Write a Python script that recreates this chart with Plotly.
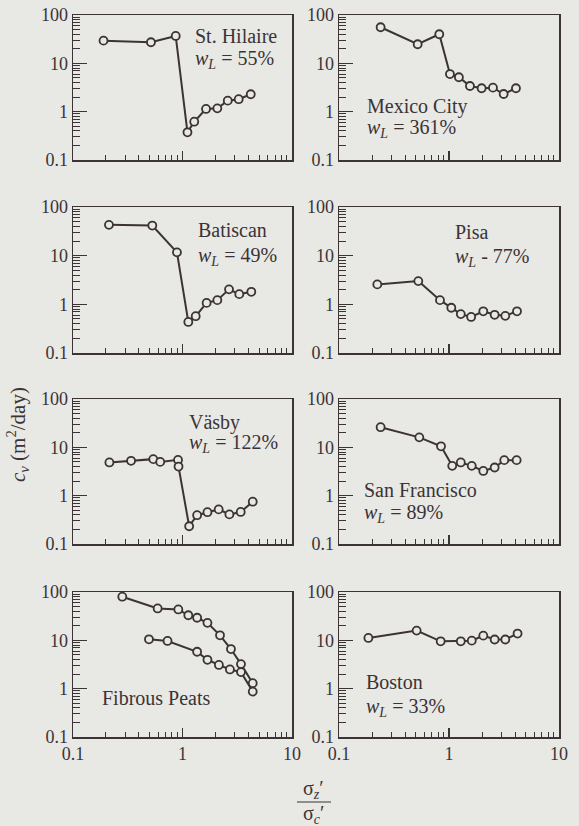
import plotly.graph_objects as go

# ---------------- data ----------------
st_hilaire_x = [0.19, 0.515, 0.867, 1.11, 1.28, 1.64, 2.08, 2.59, 3.26, 4.2]
st_hilaire_y = [29.5, 27.3, 36.9, 0.374, 0.62, 1.14, 1.17, 1.69, 1.81, 2.29]

mexico_x = [0.239, 0.519, 0.816, 1.02, 1.23, 1.55, 1.98, 2.51, 3.14, 4.06]
mexico_y = [55.8, 24.8, 40, 6.0, 5.15, 3.4, 3.05, 3.14, 2.32, 3.05]

batiscan_x = [0.213, 0.53, 0.89, 1.13, 1.32, 1.66, 2.08, 2.66, 3.3, 4.25]
batiscan_y = [43, 41.6, 11.7, 0.435, 0.57, 1.07, 1.22, 2.03, 1.62, 1.81]

pisa_x = [0.223, 0.526, 0.828, 1.05, 1.28, 1.59, 2.05, 2.6, 3.25, 4.15]
pisa_y = [2.57, 3.0, 1.22, 0.85, 0.63, 0.55, 0.72, 0.61, 0.58, 0.72]

vasby_x = [0.215, 0.339, 0.541, 0.626, 0.91, 0.92, 1.15, 1.36, 1.69, 2.14, 2.68, 3.4, 4.38]
vasby_y = [4.87, 5.26, 5.7, 5.0, 5.5, 4.0, 0.233, 0.394, 0.455, 0.52, 0.41, 0.46, 0.75]

sf_x = [0.239, 0.537, 0.846, 1.07, 1.28, 1.61, 2.05, 2.6, 3.18, 4.12]
sf_y = [26.1, 16.1, 10.5, 4.14, 4.87, 4.14, 3.25, 3.83, 5.43, 5.43]

peat1_x = [0.282, 0.593, 0.916, 1.13, 1.36, 1.69, 2.2, 2.77, 3.42, 4.38]
peat1_y = [80, 45.7, 43.6, 33, 29.3, 23, 12.7, 6.6, 3.22, 1.3]
peat2_x = [0.494, 0.73, 1.36, 1.69, 2.15, 2.71, 3.42, 4.38]
peat2_y = [10.5, 9.7, 5.8, 3.96, 3.1, 2.5, 2.2, 0.87]

boston_x = [0.185, 0.508, 0.84, 1.28, 1.61, 2.05, 2.6, 3.25, 4.2]
boston_y = [11.2, 15.9, 9.55, 9.55, 9.85, 12.5, 10.4, 10.4, 13.8]

site_names = ["St. Hilaire", "Mexico City", "Batiscan", "Pisa",
              "Väsby", "San Francisco", "Fibrous Peats", "Boston"]
wl_labels = ["<i>w</i><sub><i>L</i></sub> = 55%", "<i>w</i><sub><i>L</i></sub> = 361%",
             "<i>w</i><sub><i>L</i></sub> = 49%", "<i>w</i><sub><i>L</i></sub> - 77%",
             "<i>w</i><sub><i>L</i></sub> = 122%", "<i>w</i><sub><i>L</i></sub> = 89%",
             None, "<i>w</i><sub><i>L</i></sub> = 33%"]

x_tickvals = [0.1, 1, 10]
x_ticktext = ["0.1", "1", "10"]
y_tickvals = [0.1, 1, 10, 100]
y_ticktext = ["0.1", "1", "10", "100"]

series = [
    [(st_hilaire_x, st_hilaire_y)],
    [(mexico_x, mexico_y)],
    [(batiscan_x, batiscan_y)],
    [(pisa_x, pisa_y)],
    [(vasby_x, vasby_y)],
    [(sf_x, sf_y)],
    [(peat1_x, peat1_y), (peat2_x, peat2_y)],
    [(boston_x, boston_y)],
]

# ---------------- layout / style ----------------
W, H = 579, 826
BG = "#e8e8e4"
INK = "#3b3336"
FONT = "Liberation Serif"
TICK_SIZE = 18
LABEL_SIZE = 20

col_px = [(73, 292), (339, 559)]
row_px = [(15, 160), (207, 353), (399, 544), (592, 737)]

# label positions (left x px, centre y px) for name and wL
label_pos = [
    ((193, 36), (193, 60)),
    ((365, 106), (365, 129)),
    ((196, 230), (196, 256)),
    ((453, 232), (453, 257)),
    ((187, 422), (187, 444)),
    ((362, 490), (362, 513)),
    ((100, 698), None),
    ((364, 682), (364, 707)),
]

fig = go.Figure()
layout = dict(
    template="none",
    width=W, height=H, paper_bgcolor=BG, plot_bgcolor=BG,
    margin=dict(l=0, r=0, t=0, b=0, pad=0), showlegend=False,
    font=dict(family=FONT, size=17, color=INK),
)
annotations = []

for i in range(8):
    r, c = divmod(i, 2)
    n = i + 1
    xa = "xaxis" if n == 1 else f"xaxis{n}"
    ya = "yaxis" if n == 1 else f"yaxis{n}"
    xr = "x" if n == 1 else f"x{n}"
    yr = "y" if n == 1 else f"y{n}"
    x0, x1 = col_px[c]
    y0, y1 = row_px[r]
    layout[xa] = dict(
        type="log", range=[-1, 1], domain=[x0 / W, x1 / W], anchor=yr,
        automargin=False,
        showline=True, mirror=True, linecolor=INK, linewidth=1.5,
        showgrid=False, zeroline=False,
        ticks="inside", ticklen=9, tickwidth=1.2, tickcolor=INK,
        tickvals=x_tickvals, ticktext=x_ticktext,
        showticklabels=(r == 3), tickfont=dict(family=FONT, size=TICK_SIZE, color=INK),
        minor=dict(ticks="inside", ticklen=5, tickwidth=1, tickcolor=INK, dtick="D1", showgrid=False),
    )
    layout[ya] = dict(
        type="log", range=[-1, 2], domain=[1 - y1 / H, 1 - y0 / H], anchor=xr,
        automargin=False,
        showline=True, mirror=True, linecolor=INK, linewidth=1.5,
        showgrid=False, zeroline=False,
        ticks="inside", ticklen=14, tickwidth=1.2, tickcolor=INK,
        tickvals=y_tickvals, ticktext=y_ticktext,
        tickfont=dict(family=FONT, size=TICK_SIZE, color=INK),
        minor=dict(ticks="inside", ticklen=7, tickwidth=1, tickcolor=INK, dtick="D1", showgrid=False),
    )
    for sx, sy in series[i]:
        fig.add_trace(go.Scatter(
            x=sx, y=sy, xaxis=xr, yaxis=yr, mode="lines+markers",
            line=dict(color=INK, width=2),
            marker=dict(symbol="circle", size=8, color=BG, line=dict(color=INK, width=1.8)),
            hoverinfo="skip",
        ))
    (nx, ny), wl = label_pos[i]
    annotations.append(dict(
        text=site_names[i], x=nx / W, y=1 - ny / H, xref="paper", yref="paper",
        xanchor="left", yanchor="middle", showarrow=False,
        font=dict(family=FONT, size=LABEL_SIZE, color=INK),
    ))
    if wl_labels[i] is not None:
        wx, wy = wl
        annotations.append(dict(
            text=wl_labels[i], x=wx / W, y=1 - wy / H, xref="paper", yref="paper",
            xanchor="left", yanchor="middle", showarrow=False,
            font=dict(family=FONT, size=LABEL_SIZE, color=INK),
        ))

# y-axis title
annotations.append(dict(
    text="<i>c</i><sub><i>v</i></sub> (m<sup>2</sup>/day)",
    x=18 / W, y=1 - 435 / H, xref="paper", yref="paper",
    xanchor="center", yanchor="middle", textangle=-90, showarrow=False,
    font=dict(family=FONT, size=21, color=INK),
))
# x-axis title as a fraction
annotations.append(dict(
    text="σ<sub><i>z</i></sub>′", x=313 / W, y=1 - 789 / H, xref="paper", yref="paper",
    xanchor="center", yanchor="middle", showarrow=False,
    font=dict(family=FONT, size=20, color=INK),
))
annotations.append(dict(
    text="σ<sub><i>c</i></sub>′", x=313 / W, y=1 - 814 / H, xref="paper", yref="paper",
    xanchor="center", yanchor="middle", showarrow=False,
    font=dict(family=FONT, size=20, color=INK),
))
layout["shapes"] = [dict(type="line", xref="paper", yref="paper",
                         x0=297 / W, x1=331 / W, y0=1 - 802 / H, y1=1 - 802 / H,
                         line=dict(color=INK, width=1.2))]
layout["annotations"] = annotations
fig.update_layout(**layout)
fig.write_html(
    "out.html",
    config={"displayModeBar": False, "staticPlot": True},
    post_script="document.body.style.margin='0';document.body.style.background='%s';" % BG,
)
